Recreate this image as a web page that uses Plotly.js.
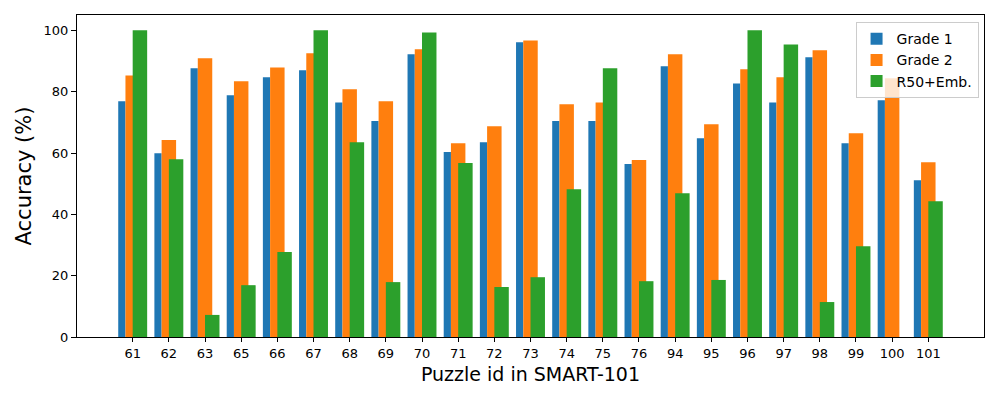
<html>
<head>
<meta charset="utf-8" />
<title>SMART-101 accuracy</title>
<script src="https://cdn.plot.ly/plotly-3.0.1.min.js"></script>
<style>body{margin:0;} #myDiv{width:1000px;height:400px;}</style>
</head>
<body>
<div id="myDiv"></div>
<script>
const puzzles = ['61','62','63','65','66','67','68','69','70','71','72','73','74','75','76','94','95','96','97','98','99','100','101'];
const grade1 = [76.9, 59.9, 87.6, 78.8, 84.7, 87.0, 76.5, 70.4, 92.2, 60.3, 63.5, 96.1, 70.4, 70.4, 56.4, 88.3, 64.8, 82.7, 76.5, 91.2, 63.2, 77.2, 51.1];
const grade2 = [85.3, 64.2, 90.9, 83.4, 87.9, 92.5, 80.8, 76.9, 93.8, 63.2, 68.7, 96.7, 75.9, 76.5, 57.7, 92.2, 69.4, 87.3, 84.7, 93.5, 66.4, 84.4, 57.0];
const r50emb = [100, 58.0, 7.2, 16.9, 27.7, 100, 63.5, 17.9, 99.3, 56.7, 16.3, 19.5, 48.2, 87.6, 18.2, 46.9, 18.6, 100, 95.4, 11.4, 29.6, 0, 44.3];

var xs = puzzles.map(function (p, i) { return i; });

function barTrace(vals, name, color, offset, width) {
  return {
    x: xs,
    y: vals,
    type: 'bar',
    name: name,
    offset: offset,
    width: width,
    marker: { color: color, line: { width: 0 } },
    hoverinfo: 'y+name'
  };
}

var data = [
  barTrace(grade1, 'Grade 1', '#1f77b4', -0.4, 0.2),
  barTrace(grade2, 'Grade 2', '#ff7f0e', -0.2, 0.4),
  barTrace(r50emb, 'R50+Emb.', '#2ca02c', 0.0, 0.4)
];

var font = 'DejaVu Sans, sans-serif';

var layout = {
  width: 1000,
  height: 400,
  barmode: 'overlay',
  paper_bgcolor: 'white',
  plot_bgcolor: 'white',
  margin: { l: 77, r: 16, t: 15, b: 63 },
  font: { family: font, size: 13, color: 'black' },
  xaxis: {
    range: [-1.54, xs.length - 1 + 1.54],
    tickmode: 'array',
    tickvals: xs,
    ticktext: puzzles,
    ticks: 'outside',
    ticklen: 4,
    tickcolor: 'black',
    showline: true,
    linecolor: 'black',
    linewidth: 1,
    mirror: true,
    showgrid: false,
    zeroline: false,
    title: { text: 'Puzzle id in SMART-101', font: { family: font, size: 19 }, standoff: 8 }
  },
  yaxis: {
    range: [0, 105],
    tickvals: [0, 20, 40, 60, 80, 100],
    ticks: 'outside',
    ticklen: 5,
    tickcolor: 'black',
    showline: true,
    linecolor: 'black',
    linewidth: 1,
    mirror: true,
    showgrid: false,
    zeroline: false,
    title: { text: 'Accuracy (%)', font: { family: font, size: 21 }, standoff: 6 }
  },
  legend: {
    x: 0.994,
    y: 0.978,
    xanchor: 'right',
    yanchor: 'top',
    bgcolor: 'rgba(255,255,255,0.8)',
    bordercolor: '#cccccc',
    borderwidth: 1,
    font: { family: font, size: 14 },
    tracegroupgap: 0
  },
  showlegend: true
};

Plotly.newPlot('myDiv', data, layout, { displayModeBar: false, staticPlot: true });
</script>
</body>
</html>
